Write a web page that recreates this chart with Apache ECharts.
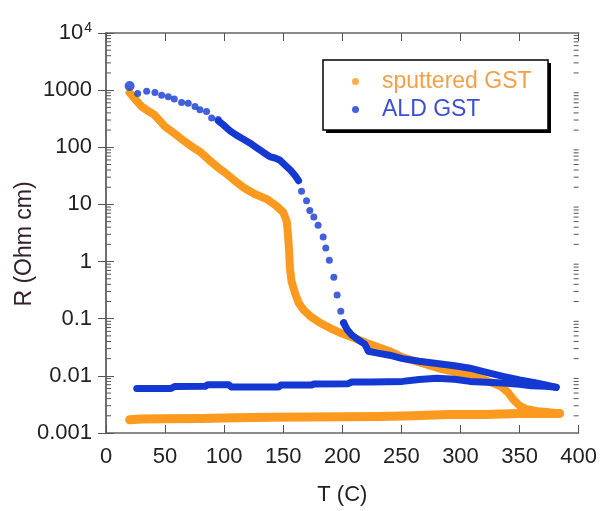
<!DOCTYPE html>
<html>
<head>
<meta charset="utf-8">
<script src="https://cdn.jsdelivr.net/npm/echarts@6/dist/echarts.min.js"></script>
<style>
  html, body { margin: 0; padding: 0; background: #fff; }
  #main { width: 600px; height: 511px; }
</style>
</head>
<body>
<div id="main"></div>
<script>
// R(T) of sputtered and ALD GST, heating up and cooling back down
var sputHeat = [
    [20, 900], [25, 680], [30, 520], [35, 440], [41, 370], [50, 230], [57, 180], [64, 139],
    [72, 105], [80, 82], [88, 58], [95, 44], [100, 37], [108, 27], [116, 20], [125, 15.5],
    [136, 12.4], [144, 9.5], [150, 7.3], [153, 5], [154, 3], [155, 1.5], [155.6, 0.8],
    [157, 0.45], [160, 0.28], [163, 0.19], [167, 0.144], [173, 0.11], [181, 0.085],
    [190, 0.068], [198, 0.057], [210, 0.046], [220, 0.038], [230, 0.032], [240, 0.027],
    [251, 0.021], [262, 0.018], [275, 0.015], [285, 0.013], [294, 0.0119], [305, 0.0105],
    [316, 0.0092], [325, 0.0078], [334, 0.0066], [340, 0.0052], [345, 0.0038], [350, 0.003],
    [356, 0.0026], [365, 0.0024], [375, 0.0023], [384, 0.0022]
];
var sputCool = [
    [384, 0.0022], [370, 0.0022], [350, 0.0022], [320, 0.0021], [290, 0.0021], [260, 0.002],
    [230, 0.00195], [200, 0.00192], [170, 0.0019], [140, 0.00188], [110, 0.00185], [80, 0.0018],
    [50, 0.00178], [30, 0.00175], [20, 0.0017]
];
var aldDots = [
    [20, 1180], [26.8, 875], [34.4, 957], [41.4, 910], [47.1, 818], [52.7, 767], [57.8, 700],
    [64, 606], [69.6, 590], [75.3, 518], [79.5, 454], [85.1, 425], [89.4, 327], [95, 306],
    [165.5, 17], [169.7, 11.6], [172.5, 7.8], [175.9, 6.0], [179.5, 4.3], [183.8, 2.7],
    [186, 1.73], [189, 1.05], [192.8, 0.53], [195.6, 0.26], [198.7, 0.135], [201.3, 0.085]
];
var aldHeatA = [
    [95, 290], [100, 240], [105, 194], [110, 165], [116, 140], [122, 118], [127, 100],
    [133, 82], [139, 68], [143, 65], [147, 60], [151, 50], [156, 40], [160, 32], [163, 26]
];
var aldHeatB = [
    [201, 0.085], [204, 0.065], [208, 0.052], [214, 0.042], [219, 0.036], [221, 0.03],
    [222, 0.027], [230, 0.025], [240, 0.023], [251, 0.02], [265, 0.018], [280, 0.0165],
    [295, 0.015], [308, 0.0136], [322, 0.0115], [336, 0.0098], [350, 0.0085], [364, 0.0075],
    [374, 0.0068], [381, 0.0063]
];
var aldCool = [
    [381, 0.0063], [372, 0.0066], [360, 0.0067], [350, 0.0071], [336, 0.0075], [322, 0.0077],
    [308, 0.008], [295, 0.0087], [280, 0.0091], [265, 0.0086], [251, 0.008], [225, 0.0078],
    [208, 0.0078], [205, 0.0073], [176, 0.0072], [174, 0.0069], [148, 0.0069], [146, 0.0064],
    [106, 0.0064], [104, 0.007], [86, 0.007], [84, 0.0066], [58, 0.0065], [55, 0.006], [26, 0.006]
];
var decades = [0.001, 0.01, 0.1, 1, 10, 100, 1000];

var ORANGE = '#FB9A1E';
var BLUE = '#1438D2';
var FONT = 'Liberation Sans, Arial, sans-serif';

// minor log ticks 2..9 in each decade
var minorTicks = [];
decades.forEach(function (d) {
    for (var k = 2; k <= 9; k++) minorTicks.push([0, d * k]);
});

function band(name, data, color, width) {
    return {
        name: name, type: 'line', data: data, showSymbol: false, silent: true,
        lineStyle: { color: color, width: width, cap: 'round', join: 'round' }
    };
}

var myChart = echarts.init(document.getElementById('main'));
var option = {
    animation: false,
    grid: { left: 106, top: 33, right: 21, bottom: 68 },
    // legend frame with its hard black drop shadow
    graphic: [
        { type: 'rect', z: 0, shape: { x: 326, y: 63, width: 225, height: 70 }, style: { fill: '#000' } },
        { type: 'rect', z: 1, shape: { x: 323, y: 60, width: 225, height: 70 }, style: { fill: '#fff', stroke: '#000', lineWidth: 1.5 } }
    ],
    legend: {
        orient: 'vertical', left: 323, top: 60, z: 10,
        data: [
            { name: 'sputtered GST', textStyle: { color: '#F2A048' } },
            { name: 'ALD GST', textStyle: { color: '#3C4FCF' } }
        ],
        itemWidth: 7, itemHeight: 7, itemGap: 5,
        padding: [10, 10, 10, 29],
        textStyle: { fontSize: 23, fontFamily: FONT, padding: [0, 0, 0, 18] },
        selectedMode: false
    },
    xAxis: [{
        type: 'value', min: 0, max: 400, interval: 50, position: 'bottom',
        name: 'T (C)', nameLocation: 'middle', nameGap: 51, nameMoveOverlap: false,
        nameTextStyle: { fontSize: 22, fontFamily: FONT, color: '#222' },
        axisLine: { lineStyle: { color: '#666', width: 1.5 } },
        axisTick: { inside: true, length: 8, lineStyle: { color: '#555' } },
        axisLabel: { fontSize: 22, fontFamily: FONT, color: '#222', margin: 13 },
        splitLine: { show: false }
    }, {
        type: 'value', min: 0, max: 400, interval: 50, position: 'top',
        axisLine: { lineStyle: { color: '#666', width: 1.5 } },
        axisTick: { inside: true, length: 8, lineStyle: { color: '#555' } },
        axisLabel: { show: false },
        splitLine: { show: false }
    }],
    yAxis: [{
        type: 'log', logBase: 10, min: 0.001, max: 10000, splitNumber: 7,
        name: 'R (Ohm cm)', nameLocation: 'middle', nameGap: 70, nameRotate: 90, nameMoveOverlap: false,
        nameTextStyle: { fontSize: 23, fontFamily: FONT, color: '#33202a', padding: [0, 22, 0, 0] },
        axisLine: { show: true, lineStyle: { color: '#666', width: 1.5 } },
        axisTick: { inside: true, length: 8, lineStyle: { color: '#555' } },
        axisLabel: {
            fontSize: 22, fontFamily: FONT, color: '#222', margin: 14,
            formatter: function (v) {
                var e = Math.round(Math.log10(v));
                if (e >= 4) return '{b|10}{sup|' + e + '}';
                return e < 0 ? v.toFixed(-e) : String(Math.pow(10, e));
            },
            rich: {
                b: { fontSize: 22, fontFamily: FONT, color: '#222' },
                sup: { fontSize: 14, fontFamily: FONT, color: '#222', verticalAlign: 'top', padding: [0, 0, 10, 1] }
            }
        },
        splitLine: { show: false }
    }, {
        type: 'log', logBase: 10, min: 0.001, max: 10000, splitNumber: 7, position: 'right',
        axisLine: { show: true, lineStyle: { color: '#666', width: 1.5 } },
        axisTick: { inside: true, length: 8, lineStyle: { color: '#555' } },
        axisLabel: { show: false },
        splitLine: { show: false }
    }],
    series: [
        {
            name: 'sputtered GST', type: 'scatter', data: [], symbol: 'circle',
            itemStyle: { color: ORANGE }
        },
        {
            name: 'ALD GST', type: 'scatter', symbol: 'circle', symbolSize: 7, z: 4,
            data: aldDots.map(function (p, i) { return i === 0 ? { value: p, symbolSize: 10 } : p; }),
            itemStyle: { color: BLUE }
        },
        band('sput heat', sputHeat, ORANGE, 8),
        band('sput cool', sputCool, ORANGE, 9),
        band('ald heat a', aldHeatA, BLUE, 7),
        band('ald heat b', aldHeatB, BLUE, 7),
        band('ald cool', aldCool, BLUE, 7),
        {
            name: 'minor ticks', type: 'custom', data: minorTicks, silent: true, z: 1,
            renderItem: function (params, api) {
                var y = api.coord([0, api.value(1)])[1];
                var cs = params.coordSys;
                var st = { stroke: '#555', lineWidth: 1 };
                return {
                    type: 'group',
                    children: [
                        { type: 'line', shape: { x1: cs.x, y1: y, x2: cs.x + 5, y2: y }, style: st },
                        { type: 'line', shape: { x1: cs.x + cs.width, y1: y, x2: cs.x + cs.width - 5, y2: y }, style: st }
                    ]
                };
            }
        }
    ]
};
myChart.setOption(option);
</script>
</body>
</html>
